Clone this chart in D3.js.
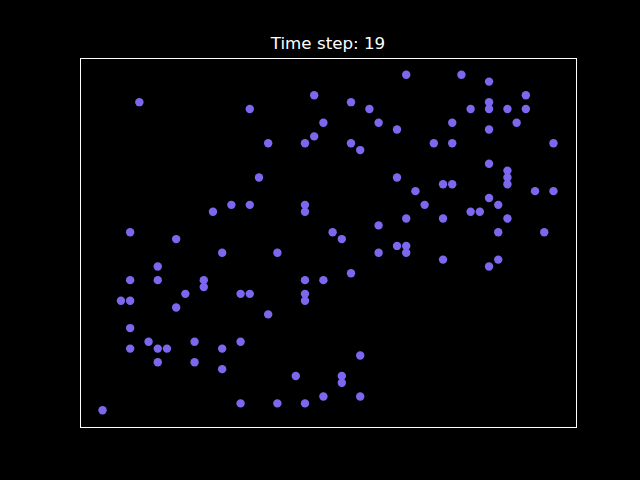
<!DOCTYPE html>
<html><head><meta charset="utf-8">
<script src="https://cdn.jsdelivr.net/npm/d3@7"></script>
<style>html,body{margin:0;padding:0;background:#000;}svg{display:block;}</style>
</head><body>
<svg id="chart" width="640" height="480"></svg>
<script>
const title = "Time step: 19";
const xs = [4,16,23,33,39,42,46,42,42,40,44,46,27,29,30,24,23,18,22,27,28,32,38,42,45,36,38,49,42,44,44,44,17,32,37,38,34,47,49,42,43,35,14,16,22,22,12,40,41,33,37,44,30,3,25,26,43,48,8,32,33,33,30,13,19,37,43,42,6,27,3,6,11,11,22,24,9,15,16,22,22,2,3,8,18,3,5,10,15,3,6,7,13,28,6,10,13,21,26,26,0,24,28,15,19,22];
const ys = [45,44,46,49,49,48,46,45,44,44,44,44,45,44,42,42,40,39,39,39,38,41,42,41,42,39,39,39,36,35,34,33,34,34,33,33,32,32,32,31,30,30,30,30,30,29,29,29,29,28,28,28,27,26,26,25,26,26,25,24,24,23,23,23,23,22,22,21,21,20,19,19,19,18,19,19,17,17,17,17,16,16,16,15,14,12,10,10,10,9,9,9,9,8,7,7,6,5,5,4,0,2,2,1,1,1];
const xDomain = [-2.45, 51.45];
const yDomain = [-2.45, 51.45];

const svg = d3.select("#chart");
svg.append("rect").attr("width",640).attr("height",480).attr("fill","#000");
const L = 80, R = 576, T = 58, B = 427;
const x = d3.scaleLinear().domain(xDomain).range([L, R]);
const y = d3.scaleLinear().domain(yDomain).range([B, T]);
const pts = d3.range(xs.length).map(i => ({x: xs[i], y: ys[i]}));

svg.append("g").selectAll("circle").data(pts).join("circle")
  .attr("cx", d => x(d.x)).attr("cy", d => y(d.y)).attr("r", 4.2)
  .attr("fill", "#7B68EE");

svg.append("rect").attr("x", L + 0.5).attr("y", T + 0.5)
  .attr("width", R - L).attr("height", B - T)
  .attr("fill", "none").attr("stroke", "#fff").attr("stroke-width", 1);

svg.append("text").attr("x", (L + R) / 2).attr("y", 49)
  .attr("text-anchor", "middle").attr("fill", "#fff")
  .attr("font-family", "DejaVu Sans").attr("font-size", 16.7)
  .text(title);
</script>
</body></html>
